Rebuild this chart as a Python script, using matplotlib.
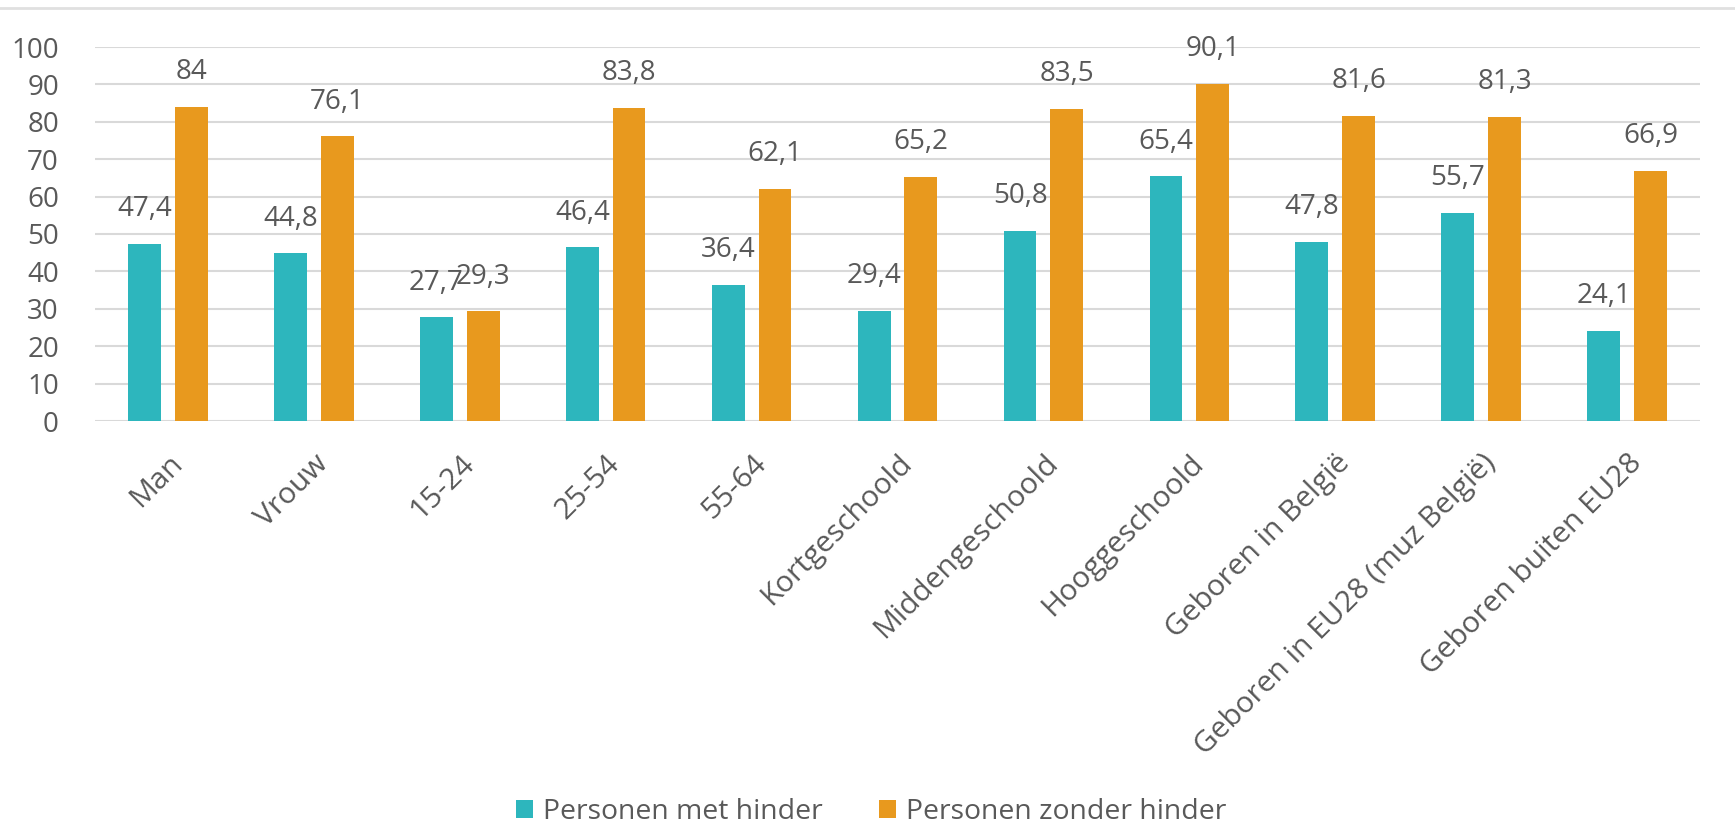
import matplotlib
matplotlib.use("Agg")
import matplotlib.pyplot as plt
import matplotlib.transforms as mtransforms
import numpy as np
from matplotlib.lines import Line2D

categories = ["Man", "Vrouw", "15-24", "25-54", "55-64", "Kortgeschoold",
              "Middengeschoold", "Hooggeschoold", "Geboren in België",
              "Geboren in EU28 (muz België)", "Geboren buiten EU28"]
met_hinder = [47.4, 44.8, 27.7, 46.4, 36.4, 29.4, 50.8, 65.4, 47.8, 55.7, 24.1]
zonder_hinder = [84, 76.1, 29.3, 83.8, 62.1, 65.2, 83.5, 90.1, 81.6, 81.3, 66.9]
series_names = ["Personen met hinder", "Personen zonder hinder"]
yticks = [0, 10, 20, 30, 40, 50, 60, 70, 80, 90, 100]

teal = "#2db6bd"
orange = "#e8991e"
txt = "#595959"
font = "Open Sans"

fig = plt.figure(figsize=(17.35, 8.21), dpi=100)
ax = fig.add_axes([95/1735, 1-421/821, (1700-95)/1735, (421-47)/821])

x = np.arange(len(categories))
w = 0.225
off = 0.16
b1 = ax.bar(x - off, met_hinder, w, color=teal, label=series_names[0], zorder=3)
b2 = ax.bar(x + off, zonder_hinder, w, color=orange, label=series_names[1], zorder=3)

def fmt(v):
    s = f"{v:.1f}"
    if s.endswith(".0"):
        s = s[:-2]
    return s.replace(".", ",")

for bars, vals in ((b1, met_hinder), (b2, zonder_hinder)):
    for r, v in zip(bars, vals):
        ax.annotate(fmt(v), (r.get_x() + r.get_width()/2, v), xytext=(0, 15),
                    textcoords="offset points", ha="center", va="bottom",
                    fontsize=20, color=txt, family=font)

ax.set_xlim(-0.5, len(categories) - 0.5)
ax.set_ylim(0, 100)
ax.set_yticks(yticks)
ax.set_yticklabels([str(t) for t in yticks], fontsize=20, color=txt, family=font)
ax.set_xticks(x)
ax.set_xticklabels(categories, rotation=45, ha="right", rotation_mode="anchor",
                   fontsize=21.5, color=txt, family=font)
shift = mtransforms.ScaledTranslation(6/100, 0, fig.dpi_scale_trans)
for lab in ax.get_xticklabels():
    lab.set_transform(lab.get_transform() + shift)
ax.tick_params(axis="both", length=0)
ax.tick_params(axis="y", pad=26)
ax.tick_params(axis="x", pad=20)
ax.grid(axis="y", color="#d9d9d9", linewidth=1.5, zorder=0)
for s in ax.spines.values():
    s.set_visible(False)

fig.add_artist(Line2D([0, 1], [1-8/821, 1-8/821], color="#e0e0e0", linewidth=2,
                      transform=fig.transFigure))

leg = fig.legend(handles=[b1, b2], labels=series_names, loc="center",
                 bbox_to_anchor=(0.502, 1-812/821), ncol=2, frameon=False,
                 handlelength=0.6, handleheight=0.6,
                 handletextpad=0.35, columnspacing=2.0, borderaxespad=0,
                 prop={"family": font, "size": 20.4})
for t in leg.get_texts():
    t.set_color(txt)

fig.savefig("out.png", dpi=100)
